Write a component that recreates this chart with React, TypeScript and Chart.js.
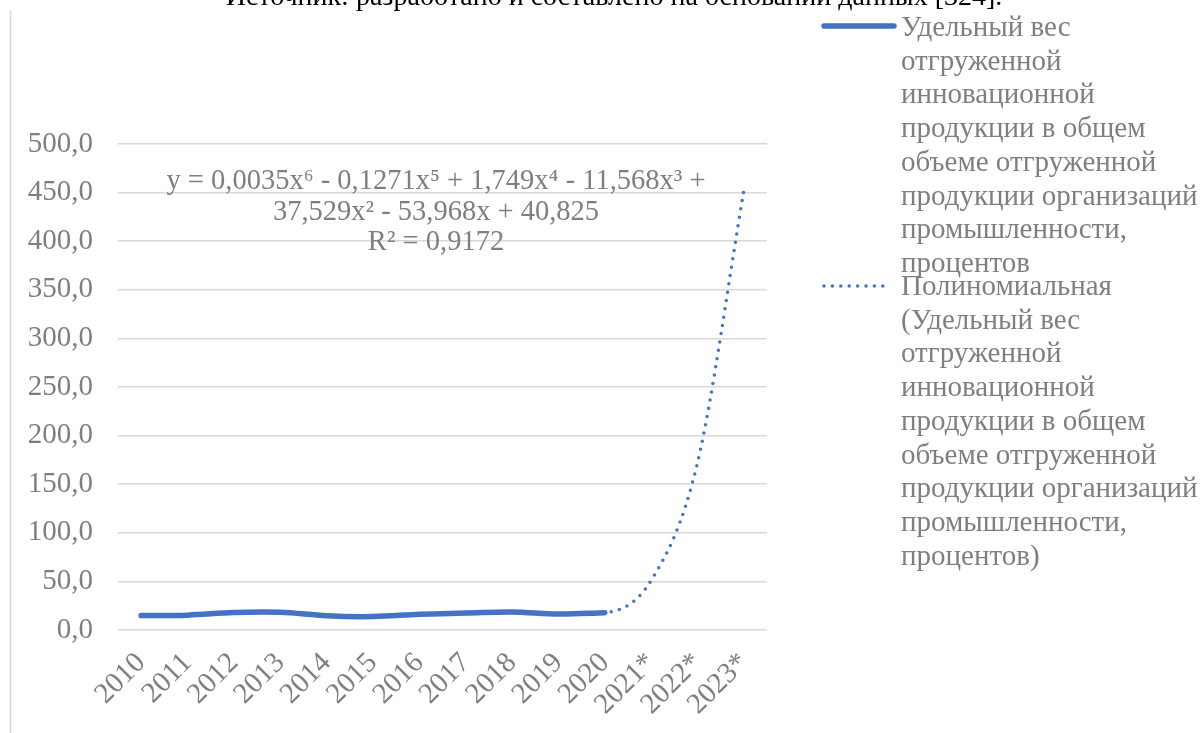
import React, { useEffect, useRef } from "react";
import { Chart, registerables } from "chart.js";

Chart.register(...registerables);

const categories = ["2010", "2011", "2012", "2013", "2014", "2015", "2016", "2017", "2018", "2019", "2020", "2021*", "2022*", "2023*"];
const actualValues = [14.8, 15.3, 18.0, 18.2, 14.6, 13.8, 16.2, 17.4, 18.6, 16.4, 17.8, null, null, null];
const trendValues = [14.9, 15.4, 17.8, 18.0, 14.8, 14.0, 16.1, 17.3, 18.4, 16.6, 17.9, 51, 172, 452];
const yMin = 0;
const yMax = 500;
const yStep = 50;

const seriesName = "Удельный вес отгруженной инновационной продукции в общем объеме отгруженной продукции организаций промышленности, процентов";
const trendName = "Полиномиальная (" + seriesName + ")";
const legendLinesActual = ["Удельный вес", "отгруженной", "инновационной", "продукции в общем", "объеме отгруженной", "продукции организаций", "промышленности,", "процентов"];
const legendLinesTrend = ["Полиномиальная", "(Удельный вес", "отгруженной", "инновационной", "продукции в общем", "объеме отгруженной", "продукции организаций", "промышленности,", "процентов)"];
const equationLines = ["y = 0,0035x⁶ - 0,1271x⁵ + 1,749x⁴ - 11,568x³ +", "37,529x² - 53,968x + 40,825", "R² = 0,9172"];
const captionText = "Источник: разработано и составлено на основании данных [324].";

const FONT = '"Liberation Serif", "Times New Roman", serif';
const GRAY = "#7f7f7f";
const BLUE = "#4472C4";

const overlayPlugin = {
  id: "overlay",
  afterDraw(chart: any) {
    const ctx = chart.ctx as CanvasRenderingContext2D;
    const area = chart.chartArea;
    ctx.save();
    // frame line on the left
    ctx.strokeStyle = "#d9d9d9";
    ctx.lineWidth = 1.5;
    ctx.beginPath();
    ctx.moveTo(10.5, 10);
    ctx.lineTo(10.5, 733);
    ctx.stroke();

    // caption (cut at top)
    ctx.fillStyle = "#000000";
    ctx.font = "28px " + FONT;
    ctx.textAlign = "center";
    ctx.textBaseline = "alphabetic";
    ctx.fillText(captionText, 614, 5);

    // trendline equation
    ctx.fillStyle = GRAY;
    ctx.font = "28.5px " + FONT;
    const eqBase = [189, 220, 250];
    equationLines.forEach((t, i) => ctx.fillText(t, 436, eqBase[i]));

    // legend
    const ds = chart.data.datasets;
    const items = [
      { lines: legendLinesActual, ds: ds[0], markY: 26, baseY: 36 },
      { lines: legendLinesTrend, ds: ds[1], markY: 286, baseY: 295 },
    ];
    const mx0 = area.right + 57;
    const mx1 = area.right + 127;
    items.forEach((it) => {
      ctx.save();
      ctx.strokeStyle = it.ds.borderColor;
      ctx.lineWidth = it.ds.borderWidth;
      ctx.lineCap = it.ds.borderCapStyle || "butt";
      ctx.setLineDash(it.ds.borderDash || []);
      ctx.beginPath();
      ctx.moveTo(mx0, it.markY);
      ctx.lineTo(it.ds.borderDash && it.ds.borderDash.length ? mx1 - 8 : mx1, it.markY);
      ctx.stroke();
      ctx.restore();
      ctx.fillStyle = GRAY;
      ctx.font = "29px " + FONT;
      ctx.textAlign = "left";
      ctx.textBaseline = "alphabetic";
      it.lines.forEach((t, i) => ctx.fillText(t, 901, it.baseY + i * 33.7));
    });
    ctx.restore();
  },
};

export default function App() {
  const canvasRef = useRef<HTMLCanvasElement | null>(null);

  useEffect(() => {
    const canvas = canvasRef.current;
    if (!canvas) return;
    const chart = new Chart(canvas, {
      type: "line",
      data: {
        labels: categories,
        datasets: [
          {
            label: seriesName,
            data: actualValues,
            borderColor: BLUE,
            backgroundColor: BLUE,
            borderWidth: 5.5,
            borderCapStyle: "round",
            borderJoinStyle: "round",
            pointRadius: 0,
            tension: 0.35,
            spanGaps: false,
            order: 1,
          },
          {
            label: trendName,
            data: trendValues,
            borderColor: BLUE,
            backgroundColor: BLUE,
            borderWidth: 3.5,
            borderDash: [0, 8.4],
            borderCapStyle: "round",
            pointRadius: 0,
            cubicInterpolationMode: "monotone",
            order: 2,
          },
        ],
      },
      options: {
        responsive: false,
        animation: false,
        devicePixelRatio: 1,
        layout: { padding: { left: 0, right: 433, top: 144, bottom: 0 } },
        plugins: {
          legend: { display: false },
          tooltip: { enabled: false },
        },
        scales: {
          x: {
            type: "category",
            offset: true,
            grid: { display: false, drawTicks: false },
            border: { display: false },
            ticks: {
              autoSkip: false,
              minRotation: 45,
              maxRotation: 45,
              padding: 16,
              color: GRAY,
              font: { family: FONT, size: 29 },
            },
            afterFit(scale: any) {
              scale.height = 103;
            },
          },
          y: {
            min: yMin,
            max: yMax,
            grid: { color: "#d9d9d9", lineWidth: 1.5, drawTicks: false },
            border: { display: false },
            ticks: {
              stepSize: yStep,
              padding: 25,
              color: GRAY,
              font: { family: FONT, size: 29 },
              callback: (v: any) => Number(v).toFixed(1).replace(".", ","),
            },
            afterFit(scale: any) {
              scale.width = 118;
            },
          },
        },
      },
      plugins: [overlayPlugin],
    } as any);
    return () => chart.destroy();
  }, []);

  return (
    <div style={{ position: "fixed", left: 0, top: 0, width: 1200, height: 733, background: "#ffffff" }}>
      <canvas ref={canvasRef} width={1200} height={733} style={{ width: 1200, height: 733, display: "block" }} />
    </div>
  );
}
